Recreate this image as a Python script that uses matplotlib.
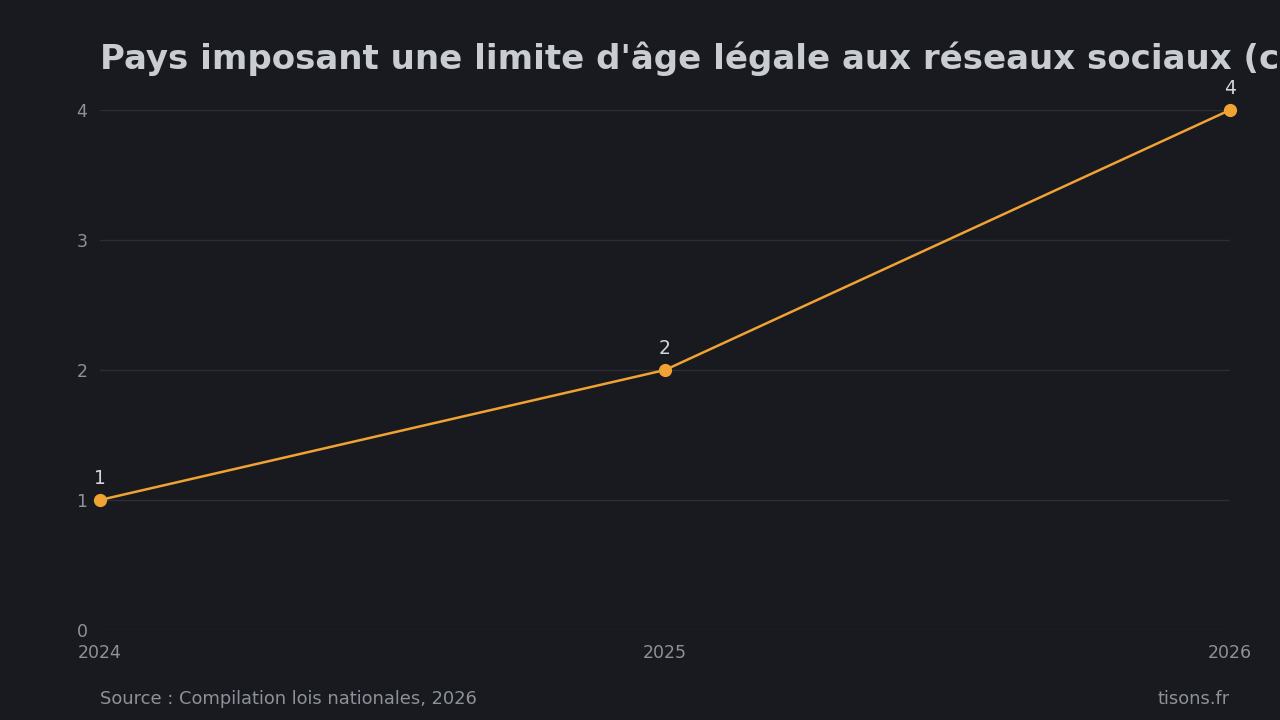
import matplotlib
matplotlib.use('Agg')
import matplotlib.pyplot as plt

# Données
annees = [2024, 2025, 2026]
pays = [1, 2, 4]
y_ticks = [0, 1, 2, 3, 4]

TITRE = "Pays imposant une limite d'âge légale aux réseaux sociaux (cumul)"
SOURCE = "Source : Compilation lois nationales, 2026"
SITE = "tisons.fr"

FOND = '#181a1f'
GRILLE = '#2b2e34'
ORANGE = '#f0a232'
GRIS = '#8d9199'
CLAIR = '#c9ccd1'

fig = plt.figure(figsize=(12.8, 7.2), dpi=100, facecolor=FOND)
ax = fig.add_axes([100 / 1280, 90 / 720, 1130 / 1280, 520 / 720])
ax.set_facecolor(FOND)

ax.plot(annees, pays, color=ORANGE, lw=1.8, marker='o', ms=8.5, zorder=3,
        clip_on=False)
for x, y in zip(annees, pays):
    ax.annotate(str(y), (x, y), xytext=(0, 9), textcoords='offset points',
                ha='center', va='bottom', color='#d2d5da', fontsize=13.5)

ax.set_xlim(annees[0], annees[-1])
ax.set_ylim(0, 4)
ax.set_xticks(annees)
ax.set_yticks(y_ticks)
ax.tick_params(length=0, colors=GRIS, labelsize=12.5)
ax.tick_params(axis='x', pad=10)
ax.tick_params(axis='y', pad=9)
ax.grid(axis='y', color=GRILLE, lw=1)
ax.set_axisbelow(True)
for s in ax.spines.values():
    s.set_visible(False)

fig.text(100 / 1280, 1 - 59 / 720, TITRE, fontsize=24.5, fontweight='bold',
         color=CLAIR, ha='left', va='center')
fig.text(100 / 1280, 1 - 699 / 720, SOURCE, fontsize=12.9, color=GRIS,
         ha='left', va='center')
fig.text(1230 / 1280, 1 - 699 / 720, SITE, fontsize=12.9, color=GRIS,
         ha='right', va='center')

fig.savefig('out.png', dpi=100, facecolor=FOND)
